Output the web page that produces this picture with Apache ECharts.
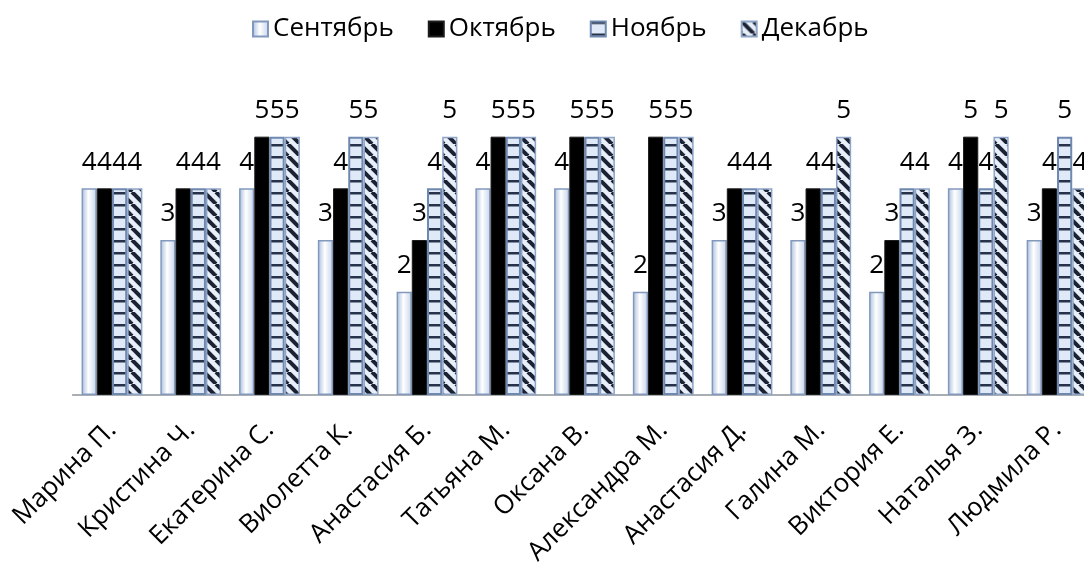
<!DOCTYPE html>
<html>
<head>
<meta charset="utf-8">
<script src="https://cdn.jsdelivr.net/npm/echarts@6/dist/echarts.min.js"></script>
<style>
  html, body { margin: 0; padding: 0; background: #ffffff; }
  #chart { width: 1084px; height: 573px; }
</style>
</head>
<body>
<div id="chart"></div>
<script>
// Pupils and their monthly marks
const students = ['Марина П.', 'Кристина Ч.', 'Екатерина С.', 'Виолетта К.', 'Анастасия Б.',
  'Татьяна М.', 'Оксана В.', 'Александра М.', 'Анастасия Д.', 'Галина М.', 'Виктория Е.',
  'Наталья З.', 'Людмила Р.'];
const monthNames = ['Сентябрь', 'Октябрь', 'Ноябрь', 'Декабрь'];
const septemberGrades = [4, 3, 4, 3, 2, 4, 4, 2, 3, 3, 2, 4, 3];
const octoberGrades   = [4, 4, 5, 4, 3, 5, 5, 5, 4, 4, 3, 5, 4];
const novemberGrades  = [4, 4, 5, 5, 4, 5, 5, 5, 4, 4, 4, 4, 5];
const decemberGrades  = [4, 4, 5, 5, 5, 5, 5, 5, 4, 5, 4, 5, 4];

const FONT = '"Open Sans", "Noto Sans", sans-serif';
const TEXT_SIZE = 26;

// Horizontal rungs for the "ladder" fill
function ladderTile() {
  const c = document.createElement('canvas');
  c.width = 2; c.height = 12;
  const g = c.getContext('2d');
  g.fillStyle = '#dfe9f7';
  g.fillRect(0, 0, 2, 12);
  g.fillStyle = '#26324a';
  g.fillRect(0, 0, 2, 2.5);
  return c;
}

// Backslash diagonal stripes
function diagonalTile() {
  const s = 12;
  const c = document.createElement('canvas');
  c.width = s; c.height = s;
  const g = c.getContext('2d');
  g.fillStyle = '#e8eff9';
  g.fillRect(0, 0, s, s);
  g.strokeStyle = '#1a2234';
  g.lineWidth = 4;
  for (const x0 of [-s, 0, s]) {
    g.beginPath();
    g.moveTo(x0, 0);
    g.lineTo(x0 + s, s);
    g.stroke();
  }
  return c;
}

const septemberFill = {
  type: 'linear', x: 0, y: 0, x2: 1, y2: 0,
  colorStops: [
    { offset: 0, color: '#a7bcdc' },
    { offset: 0.45, color: '#ffffff' },
    { offset: 1, color: '#c4d3ea' }
  ]
};

const valueLabel = {
  show: true,
  position: 'top',
  distance: 13,
  fontSize: TEXT_SIZE,
  fontFamily: FONT,
  color: '#000000'
};

function makeSeries(name, data, itemStyle) {
  return {
    name: name,
    type: 'bar',
    data: data,
    barWidth: 15.2,
    barGap: '0%',
    itemStyle: itemStyle,
    label: valueLabel,
    emphasis: { disabled: true }
  };
}

const chart = echarts.init(document.getElementById('chart'), null, { renderer: 'canvas' });

chart.setOption({
  animation: false,
  backgroundColor: '#ffffff',
  legend: {
    top: 11,
    left: 247,
    itemWidth: 15,
    itemHeight: 15,
    itemGap: 34,
    icon: 'rect',
    textStyle: { fontSize: TEXT_SIZE, fontFamily: FONT, color: '#000000' },
    data: monthNames
  },
  grid: {
    left: 72.6,
    right: -12.4,
    top: 85,
    bottom: 178,
    containLabel: false,
    outerBoundsMode: 'none'
  },
  xAxis: {
    type: 'category',
    data: students,
    axisTick: { show: false },
    axisLine: { lineStyle: { color: '#8d929c', width: 1.5 } },
    axisLabel: {
      interval: 0,
      rotate: 45,
      margin: 31,
      fontSize: TEXT_SIZE,
      fontFamily: FONT,
      color: '#000000'
    }
  },
  yAxis: {
    type: 'value',
    min: 0,
    max: 6,
    show: false,
    splitLine: { show: false }
  },
  series: [
    makeSeries(monthNames[0], septemberGrades, {
      color: septemberFill, borderColor: '#8299bd', borderWidth: 1.5
    }),
    makeSeries(monthNames[1], octoberGrades, {
      color: '#000000', borderColor: '#1c1c1c', borderWidth: 1
    }),
    makeSeries(monthNames[2], novemberGrades, {
      color: { image: ladderTile(), repeat: 'repeat' }, borderColor: '#6f88b0', borderWidth: 2
    }),
    makeSeries(monthNames[3], decemberGrades, {
      color: { image: diagonalTile(), repeat: 'repeat' }, borderColor: '#8ea4c6', borderWidth: 1.5
    })
  ]
});
</script>
</body>
</html>
